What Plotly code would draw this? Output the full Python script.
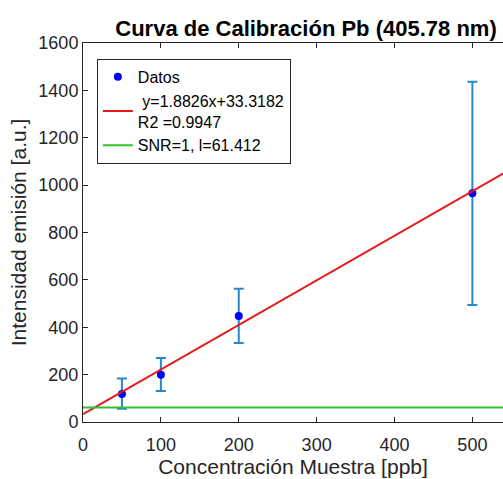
import plotly.graph_objects as go

conc = [50, 100, 200, 500]
intens = [118, 199, 448, 966]
err_hi = [184, 270, 563, 1436]
err_lo = [56, 131, 334, 494]
slope = 1.8826
intercept = 33.3182
lod_level = 61.412
x_fit = [0, 540]
y_fit = [slope * x + intercept for x in x_fit]

plus = [h - v for h, v in zip(err_hi, intens)]
minus = [v - l for v, l in zip(intens, err_lo)]

FONT = "Liberation Sans, Arial, sans-serif"

fig = go.Figure()
fig.add_trace(go.Scatter(
    x=conc, y=intens, mode="markers", name="Datos",
    marker=dict(color="#0000ff", size=8),
    error_y=dict(type="data", symmetric=False, array=plus, arrayminus=minus,
                 color="#2c86cc", thickness=2, width=5),
))
fig.add_trace(go.Scatter(
    x=x_fit, y=y_fit, mode="lines", name=" y=1.8826x+33.3182<br>R2 =0.9947",
    line=dict(color="#e31a1c", width=2),
))
fig.add_trace(go.Scatter(
    x=x_fit, y=[lod_level, lod_level], mode="lines", name="SNR=1, l=61.412",
    line=dict(color="#2fc42f", width=2),
))

axis_common = dict(
    showgrid=False, zeroline=False, showline=True, linecolor="#262626", linewidth=1,
    ticks="inside", ticklen=5, tickcolor="#262626",
    tickfont=dict(family=FONT, size=18, color="#262626"),
)
fig.update_layout(
    width=503, height=479,
    margin=dict(l=83, r=0, t=43, b=57),
    plot_bgcolor="white", paper_bgcolor="white",
    font=dict(family=FONT, color="#262626"),
    title=dict(text="<b>Curva de Calibración Pb (405.78 nm)</b>",
               x=306 / 503, xref="container", xanchor="center",
               y=1 - 28 / 479, yref="container", yanchor="middle",
               font=dict(size=22, color="black")),
    xaxis=dict(range=[0, 539.3], tickvals=[0, 100, 200, 300, 400, 500], mirror="ticks",
               ticklabelstandoff=6,
               title=dict(text="Concentración Muestra [ppb]", font=dict(size=21), standoff=3),
               **axis_common),
    yaxis=dict(range=[0, 1600], tickvals=list(range(0, 1601, 200)),
               title=dict(text="Intensidad emisión [a.u.]", font=dict(size=21), standoff=6),
               **axis_common),
    legend=dict(x=0.033, y=0.958, xanchor="left", yanchor="top",
                bgcolor="white", bordercolor="#262626", borderwidth=1,
                font=dict(size=16, color="black"), tracegroupgap=0,
                itemwidth=30),
    showlegend=True,
)
fig.write_html("out.html")
